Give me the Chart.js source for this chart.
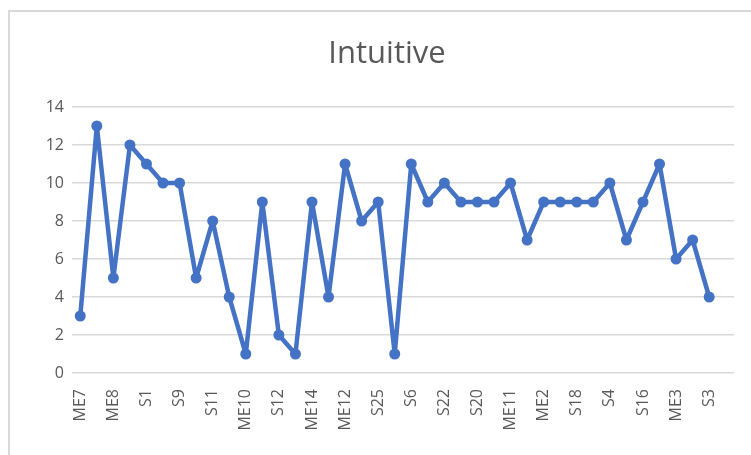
<!DOCTYPE html>
<html>
<head>
<meta charset="utf-8">
<script src="https://cdn.jsdelivr.net/npm/chart.js@4.4.1/dist/chart.umd.min.js"></script>
<style>
  html, body { margin: 0; padding: 0; background: #ffffff; }
  #wrap { position: relative; width: 751px; height: 455px; overflow: hidden; }
  #frame {
    position: absolute; left: 8px; top: 10px; width: 760px; height: 460px;
    border-top: 2px solid #d9d9d9; border-left: 2px solid #d9d9d9; box-sizing: border-box;
  }
  canvas { position: absolute; left: 0; top: 0; }
</style>
</head>
<body>
<div id="wrap">
  <div id="frame"></div>
  <canvas id="chart" width="751" height="455"></canvas>
</div>
<script>
// Respondent codes along the horizontal axis (every other one is labelled)
const categories = [
  'ME7', 'S7', 'ME8', 'S2', 'S1', 'ME9', 'S9', 'S10', 'S11', 'ME13',
  'ME10', 'S14', 'S12', 'ME5', 'ME14', 'S23', 'ME12', 'S24', 'S25', 'ME6',
  'S6', 'S21', 'S22', 'S19', 'S20', 'ME1', 'ME11', 'S17', 'ME2', 'S15',
  'S18', 'ME4', 'S4', 'S13', 'S16', 'S5', 'ME3', 'S8', 'S3', ''
];

// Intuitive scores per respondent
const intuitive = [
  3, 13, 5, 12, 11, 10, 10, 5, 8, 4,
  1, 9, 2, 1, 9, 4, 11, 8, 9, 1,
  11, 9, 10, 9, 9, 9, 10, 7, 9, 9,
  9, 9, 10, 7, 9, 11, 6, 7, 4, null
];

// Value axis ticks
const yTicks = [0, 2, 4, 6, 8, 10, 12, 14];

const FONT = '"Open Sans", "Liberation Sans", sans-serif';
const TEXT = '#595959';
const GRID = '#d9d9d9';
const BLUE = '#4472c4';

// Draws the chart title centred over the plot
const titlePlugin = {
  id: 'centeredTitle',
  afterDraw(chart) {
    const ctx = chart.ctx;
    ctx.save();
    ctx.font = '31px ' + FONT;
    ctx.fillStyle = TEXT;
    ctx.textAlign = 'center';
    ctx.textBaseline = 'middle';
    ctx.fillText('Intuitive', 387, 54);
    ctx.restore();
  }
};

new Chart(document.getElementById('chart'), {
  type: 'line',
  data: {
    labels: categories,
    datasets: [{
      label: 'Intuitive',
      data: intuitive,
      borderColor: BLUE,
      backgroundColor: BLUE,
      borderWidth: 4.5,
      borderJoinStyle: 'round',
      borderCapStyle: 'round',
      pointRadius: 5.5,
      pointHoverRadius: 5.5,
      pointBorderWidth: 0,
      tension: 0,
      spanGaps: false
    }]
  },
  options: {
    responsive: false,
    animation: false,
    layout: { padding: { left: 0, right: 17, top: 107, bottom: 0 } },
    plugins: {
      legend: { display: false },
      title: { display: false },
      tooltip: { enabled: false }
    },
    scales: {
      x: {
        offset: true,
        grid: { display: false },
        border: { display: false },
        ticks: {
          autoSkip: false,
          maxRotation: 90,
          minRotation: 90,
          padding: 8,
          color: TEXT,
          font: { family: FONT, size: 16 },
          callback: (v, i) => (i % 2 === 0 ? categories[i] : '')
        },
        afterFit: (s) => {
          s.height = 82;
          s.paddingLeft = 0;
          s.paddingRight = 0;
        }
      },
      y: {
        min: 0,
        max: 14,
        afterBuildTicks: (s) => { s.ticks = yTicks.map(v => ({ value: v })); },
        grid: { color: GRID, lineWidth: 1.5, drawTicks: false },
        border: { display: false },
        ticks: {
          padding: 8,
          color: TEXT,
          font: { family: FONT, size: 16 }
        },
        afterFit: (s) => { s.width = 72; }
      }
    }
  },
  plugins: [titlePlugin]
});
</script>
</body>
</html>
